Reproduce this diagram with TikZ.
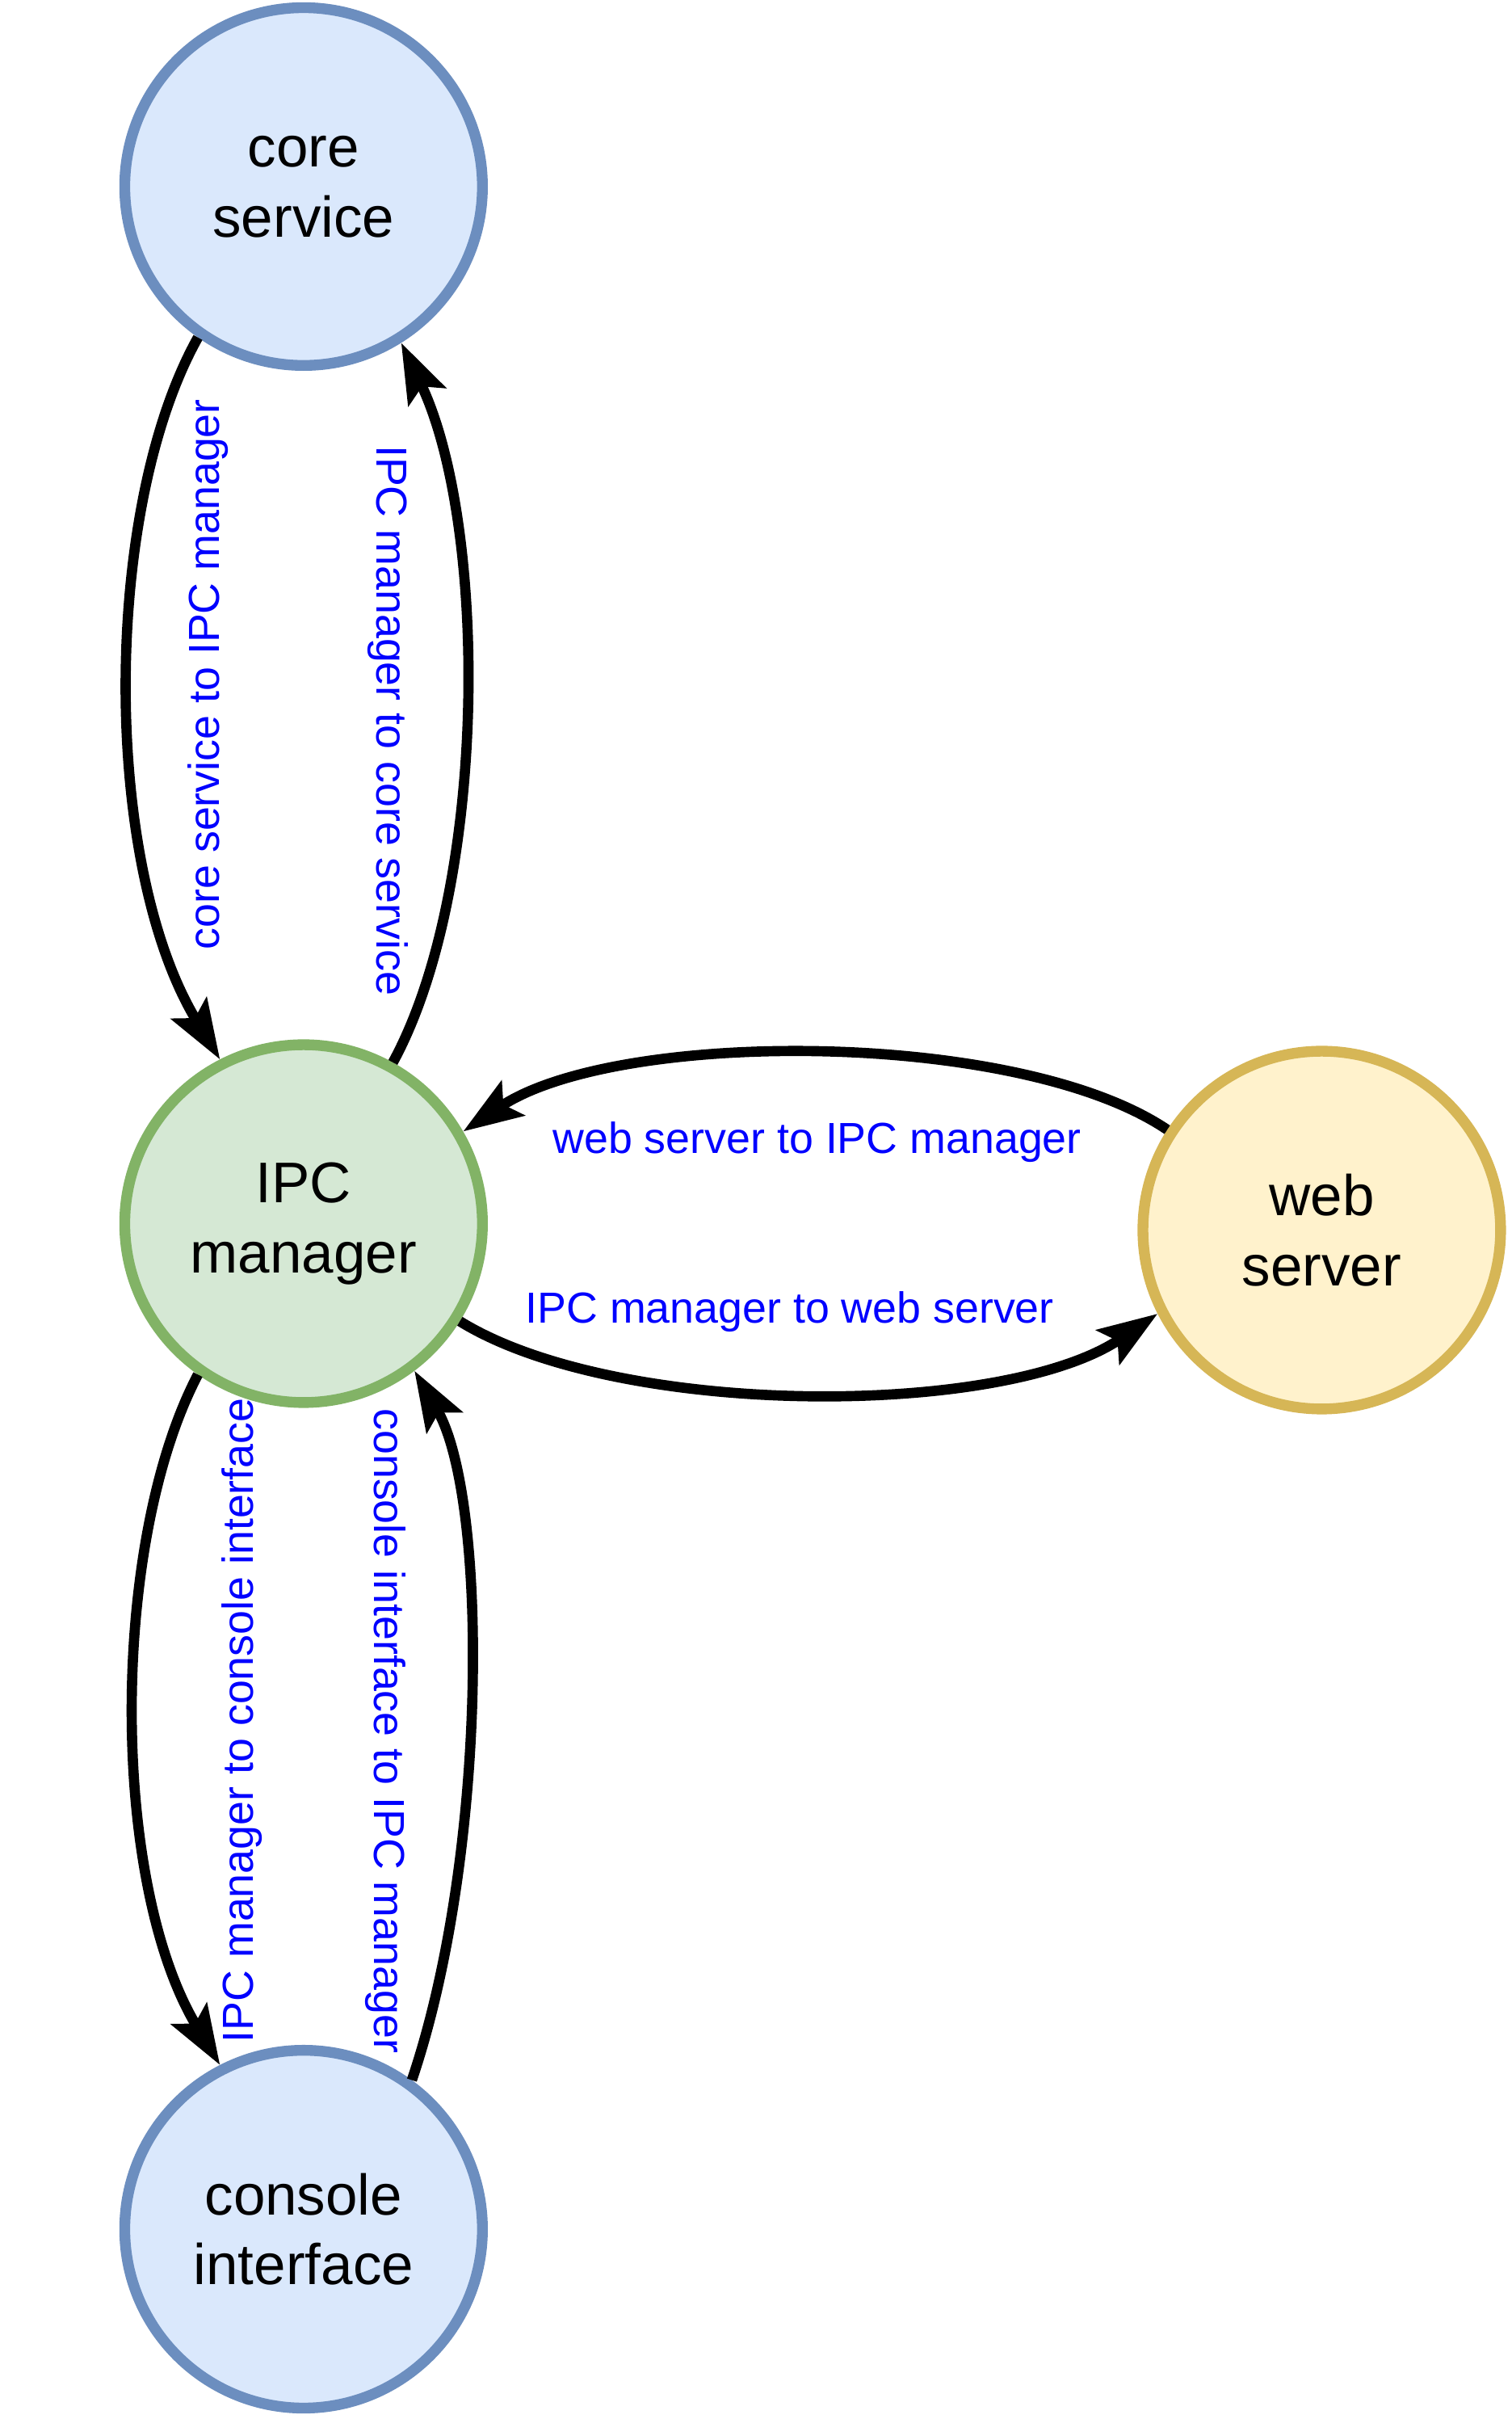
\documentclass[tikz,border=0pt]{standalone}
\usepackage{fontspec}
\setmainfont{Liberation Sans}
\usetikzlibrary{arrows.meta}
\definecolor{bluefill}{HTML}{DAE8FC}
\definecolor{bluedraw}{HTML}{6C8EBF}
\definecolor{greenfill}{HTML}{D5E8D4}
\definecolor{greendraw}{HTML}{82B366}
\definecolor{yellowfill}{HTML}{FFF2CC}
\definecolor{yellowdraw}{HTML}{D6B656}
\begin{document}
\begin{tikzpicture}[
  proc/.style={circle, minimum size=4.43cm, line width=3.8pt, align=center,
    font=\fontsize{20.2}{24.7}\selectfont},
  lbl/.style={text=blue, font=\fontsize{15.3}{18}\selectfont, inner sep=0pt},
  flow/.style={line width=3.6pt, -{Stealth[length=21pt,width=14.5pt,inset=4pt]}}
]
  \useasboundingbox (0,0) rectangle (18.72,29.95);

  \node[proc, fill=bluefill, draw=bluedraw]     (core) at (3.76,27.64) {core\\service};
  \node[proc, fill=greenfill, draw=greendraw]   (ipc)  at (3.76,14.80) {IPC\\manager};
  \node[proc, fill=yellowfill, draw=yellowdraw] (web)  at (16.37,14.72) {web\\server};
  \node[proc, fill=bluefill, draw=bluedraw]     (cons) at (3.76,2.35) {console\\interface};

  \draw[flow] (core.235) .. controls (1.26,23.64) and (1.26,19.25) .. (ipc.117);
  \draw[flow] (ipc.61) .. controls (6.05,18.97) and (6.05,23.45) .. (core.302);

  \draw[flow] (web.147) .. controls (12.61,17.21) and (7.64,17.21) .. (ipc.30);
  \draw[flow] (ipc.328) .. controls (7.64,12.39) and (12.42,12.39) .. (web.207);

  \draw[flow] (ipc.235) .. controls (1.36,10.85) and (1.36,6.65) .. (cons.117);
  \draw[flow] (cons.54) .. controls (6.05,7.00) and (6.05,11.40) .. (ipc.307);

  \node[lbl, rotate=90]  (l1) at (2.58,21.60) {core service to IPC manager};
  \node[lbl, rotate=-90] (l2) at (4.81,21.03) {IPC manager to core service};
  \node[lbl]             (l3) at (10.12,15.81) {web server to IPC manager};
  \node[lbl]             (l4) at (9.78,13.71) {IPC manager to web server};
  \node[lbl, rotate=90]  (l5) at (3.00,8.65) {IPC manager to console interface};
  \node[lbl, rotate=-90] (l6) at (4.78,8.52) {console interface to IPC manager};
\end{tikzpicture}
\end{document}
